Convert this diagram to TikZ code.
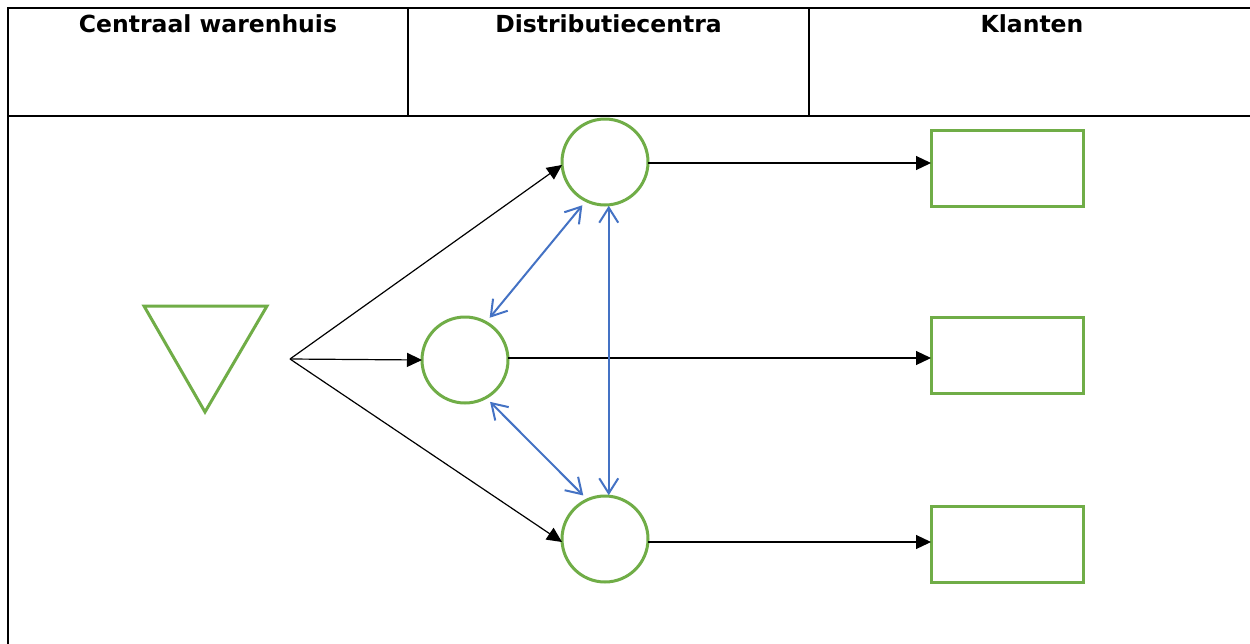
\documentclass[tikz,border=0pt]{standalone}
\usepackage{fontspec}
\newfontfamily\hdrfont{DejaVu Sans}
\usetikzlibrary{arrows.meta,calc}
\definecolor{grn}{HTML}{70AD47}
\definecolor{blu}{HTML}{4472C4}
\tikzset{
  grid/.style={line width=2.4pt, draw=black},
  hdr/.style={font=\hdrfont\bfseries\fontsize{23.5}{28}\selectfont, anchor=base, inner sep=0pt},
  dc/.style={circle, draw=grn, line width=3pt, minimum size=86pt, inner sep=0pt, outer sep=0pt},
  klant/.style={rectangle, draw=grn, line width=3pt, minimum width=152pt, minimum height=76pt, inner sep=0pt, outer sep=0pt},
  flow/.style={line width=1.2pt, -{Triangle[length=15pt,width=14pt]}},
  swap/.style={draw=blu, line width=2pt, {Straight Barb[length=15pt,width=19pt]}-{Straight Barb[length=15pt,width=19pt]}},
  gap/.style={shorten <=6pt, shorten >=6pt}
}
\begin{document}
\begin{tikzpicture}[x=1pt,y=-1pt]
\useasboundingbox (0,0) rectangle (1250,643);
\clip (0,0) rectangle (1250,643);
\fill[white] (0,0) rectangle (1250,643);
% table
\draw[grid] (8,660) -- (8,8) -- (1270,8);
\draw[grid] (8,116) -- (1270,116);
\draw[grid] (408,8) -- (408,116);
\draw[grid] (809,8) -- (809,116);
\node[hdr] (h1) at (208,32) {Centraal warenhuis};
\node[hdr] (h2) at (608.5,32) {Distributiecentra};
\node[hdr] (h3) at (1032,32) {Klanten};
% warehouse triangle
\draw[draw=grn, line width=3pt, line join=miter] (144,306) -- (267,306) -- (205,412) -- cycle;
% distribution centres
\node[dc] (c1) at (605,162) {};
\node[dc] (c2) at (465,360) {};
\node[dc] (c3) at (605,539) {};
% customers
\node[klant] (r1) at (1007,168) {};
\node[klant] (r2) at (1007,355) {};
\node[klant] (r3) at (1007,544) {};
% fan
\coordinate (f) at (290,359);
\coordinate (in1) at ($(c1.west)+(0,3)$);
\coordinate (in3) at ($(c3.west)+(0,3)$);
\draw[flow] (f) -- (in1);
\draw[flow] (f) -- (c2.west);
\draw[flow] (f) -- (in3);
% to customers
\coordinate (o1) at ($(c1.east)+(0,1)$);
\coordinate (o2) at ($(c2.east)+(0,-2)$);
\coordinate (o3) at ($(c3.east)+(0,3)$);
\draw[flow] (o1) -- (o1 -| r1.west);
\draw[flow] (o2) -- (o2 -| r2.west);
\draw[flow] (o3) -- (o3 -| r3.west);
% exchanges between centres
\draw[swap,gap] (c2.61) -- (c1.244);
\draw[swap,shorten <=1pt, shorten >=1pt] (c1.275) -- (c3.85);
\draw[swap,gap] (c2.-61) -- (c3.114);
\end{tikzpicture}
\end{document}
